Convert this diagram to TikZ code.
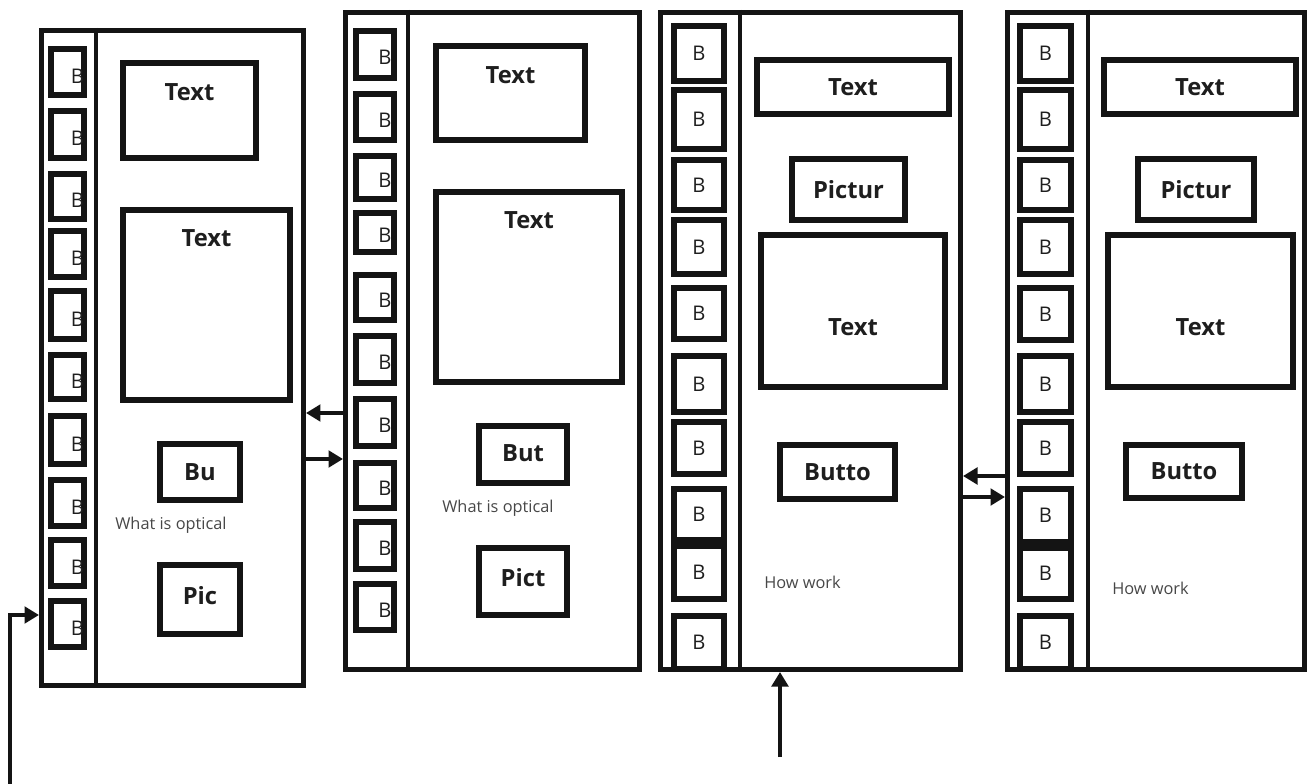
\documentclass[tikz,border=0pt]{standalone}
\usepackage{fontspec}
\setmainfont{Open Sans}
\usetikzlibrary{fit,arrows.meta}
\definecolor{ink}{HTML}{141414}
\definecolor{txt}{HTML}{1E1E1E}
\definecolor{small}{HTML}{474747}
\begin{document}
\begin{tikzpicture}[x=0.02cm,y=-0.02cm,
  ln/.style={draw=ink, line width=0.095cm},
  panelbox/.style={draw=ink, line width=0.095cm, inner sep=-0.0475cm},
  frame/.style={draw=ink, line width=0.12cm, inner sep=-0.06cm},
  bcell/.style={draw=ink, line width=0.12cm, inner sep=-0.06cm},
  bfont/.style={font=\fontsize{11.5}{12}\selectfont, text=txt, inner sep=0pt},
  lbl/.style={font=\fontsize{13.5}{15}\selectfont\bfseries, text=txt, inner sep=0pt},
  note/.style={font=\fontsize{9.3}{10}\selectfont, text=small, inner sep=0pt, anchor=west},
  arr/.style={draw=ink, line width=0.09cm, -{Triangle[length=0.29cm,width=0.33cm]}}]
\useasboundingbox (0,0) rectangle (1309,784);

% ---------------- Panel 1 ----------------
\node[panelbox, fit={(39,28) (306,688)}] (P1) {};
\draw[ln] (P1.north -| 96,0) -- (P1.south -| 96,0);
\foreach \a/\b [count=\i] in {46/98,108/161,171/222,228/280,288/342,352/402,413/467,477/529,537/589,598/650}
  \node[bcell, fit={(48,\a) (87,\b)}, label={[bfont,xshift=0.2cm,yshift=-0.08cm]center:B}] (p1b\i) {};
\node[frame, fit={(120,60) (259,161)}, label={[lbl,yshift=0.37cm]center:Text}] (p1t1) {};
\node[frame, fit={(120,207) (293,403)}, label={[lbl,yshift=1.34cm]center:Text}] (p1t2) {};
\node[frame, fit={(157,441) (243,503)}, label={[lbl]center:Bu}] (p1bu) {};
\node[note] (p1q) at (115,525) {What is optical};
\node[frame, fit={(157,562) (243,637)}, label={[lbl,yshift=0.08cm]center:Pic}] (p1pic) {};

% ---------------- Panel 2 ----------------
\node[panelbox, fit={(343,10) (642,672)}] (P2) {};
\draw[ln] (P2.north -| 408,0) -- (P2.south -| 408,0);
\foreach \a/\b [count=\i] in {28/81,91/143,153/202,210/255,272/323,333/386,396/449,460/511,519/572,581/633}
  \node[bcell, fit={(353,\a) (397,\b)}, label={[bfont,xshift=0.2cm,yshift=-0.06cm]center:B}] (p2b\i) {};
\node[frame, fit={(433,43) (588,143)}, label={[lbl,yshift=0.36cm]center:Text}] (p2t1) {};
\node[frame, fit={(433,189) (625,385)}, label={[lbl,yshift=1.34cm]center:Text}] (p2t2) {};
\node[frame, fit={(476,423) (570,486)}, label={[lbl,yshift=0.03cm]center:But}] (p2bu) {};
\node[note] (p2q) at (442,508) {What is optical};
\node[frame, fit={(476,545) (570,618)}, label={[lbl,yshift=0.07cm]center:Pict}] (p2pic) {};

% ---------------- Panel 3 ----------------
\node[panelbox, fit={(658,10) (963,672)}] (P3) {};
\draw[ln] (P3.north -| 740,0) -- (P3.south -| 740,0);
\foreach \a/\b [count=\i] in {23/84,87/152,157/213,217/277,285/342,353/415,419/477,486/543,543/602,613/672}
  \node[bcell, fit={(671,\a) (727,\b)}, label={[bfont]center:B}] (p3b\i) {};
\node[frame, fit={(754,57) (952,117)}, label={[lbl]center:Text}] (p3t1) {};
\node[frame, fit={(789,156) (908,223)}, label={[lbl]center:Pictur}] (p3pic) {};
\node[frame, fit={(758,232) (948,390)}, label={[lbl,yshift=-0.32cm]center:Text}] (p3t2) {};
\node[frame, fit={(777,442) (898,502)}, label={[lbl]center:Butto}] (p3bu) {};
\node[note] (p3q) at (764,582) {How work};

% ---------------- Panel 4 ----------------
\node[panelbox, fit={(1005,10) (1307,672)}] (P4) {};
\draw[ln] (P4.north -| 1088,0) -- (P4.south -| 1088,0);
\foreach \a/\b [count=\i] in {23/84,87/152,157/213,217/277,285/343,353/415,419/477,486/545,545/602,613/672}
  \node[bcell, fit={(1017,\a) (1074,\b)}, label={[bfont]center:B}] (p4b\i) {};
\node[frame, fit={(1101,57) (1299,117)}, label={[lbl]center:Text}] (p4t1) {};
\node[frame, fit={(1135,156) (1257,223)}, label={[lbl]center:Pictur}] (p4pic) {};
\node[frame, fit={(1105,232) (1296,390)}, label={[lbl,yshift=-0.32cm]center:Text}] (p4t2) {};
\node[frame, fit={(1123,442) (1245,501)}, label={[lbl]center:Butto}] (p4bu) {};
\node[note] (p4q) at (1112,588) {How work};

% ---------------- Connectors ----------------
\coordinate (a1s) at (10,786);
\coordinate (a1k) at (10,615);
\draw[arr] (a1s) -- (a1k) -- (a1k -| P1.west);
\draw[arr] (P2.west |- 0,413) -- (P1.east |- 0,413);
\draw[arr] (P1.east |- 0,459) -- (P2.west |- 0,459);
\draw[arr] (P4.west |- 0,476) -- (P3.east |- 0,476);
\draw[arr] (P3.east |- 0,497) -- (P4.west |- 0,497);
\coordinate (a6s) at (780,757);
\draw[arr] (a6s) -- (a6s |- P3.south);
\end{tikzpicture}
\end{document}
